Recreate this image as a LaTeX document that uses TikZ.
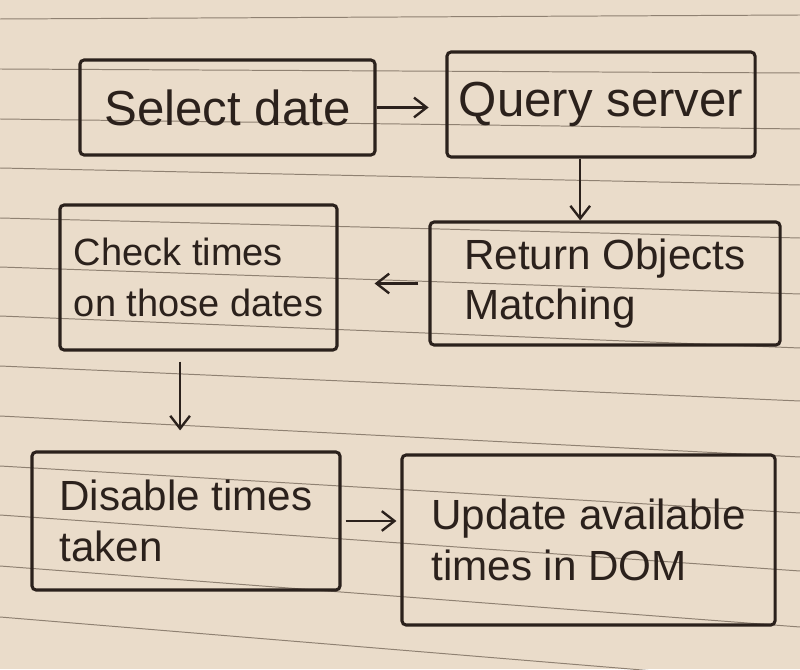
\documentclass[tikz,border=0pt]{standalone}
\usepackage{fontspec}
\setmainfont{Liberation Sans}
\usetikzlibrary{arrows.meta,calc}
\definecolor{paper}{HTML}{EADCCA}
\definecolor{ink}{HTML}{2B211C}
\definecolor{rule}{HTML}{8F8172}
\begin{document}
\begin{tikzpicture}[x=0.025cm,y=-0.025cm,
  box/.style={draw=ink, line width=2.2pt, rounded corners=3pt, inner sep=0pt, text=ink, align=left},
  bigtxt/.style={font=\fontsize{35}{42}\selectfont},
  smalltxt/.style={font=\fontsize{30}{36}\selectfont},
  tinytxt/.style={font=\fontsize{27}{36}\selectfont},
  arr/.style={draw=ink, line width=1.7pt, -{Straight Barb[length=9pt,width=14pt]}},
  ruled/.style={draw=rule, line width=0.7pt}]
\fill[paper] (0,0) rectangle (800,669);
\useasboundingbox (0,0) rectangle (800,669);
\foreach \l/\r in {19/15, 69/73, 119/129, 168/185, 218/238, 267/294, 316/348, 366/401, 416/457, 466/513, 515/571, 566/627, 617/683}
  \draw[ruled] (0,\l) -- (800,\r);
% boxes
\node[box, bigtxt, minimum width=7.375cm, minimum height=2.375cm] (sel) at (227.5,107.5) {Select date};
\node[box, bigtxt, minimum width=7.7cm, minimum height=2.625cm] (qry) at (601,104.5) {Query server};
\node[box, smalltxt, minimum width=8.75cm, minimum height=3.075cm] (ret) at (605,283.5) {Return Objects\\Matching\hspace{2.3cm}};
\node[box, tinytxt, minimum width=6.925cm, minimum height=3.625cm] (chk) at (198.5,277.5) {Check times\\on those dates};
\node[box, smalltxt, minimum width=7.7cm, minimum height=3.45cm] (dis) at (186,521) {Disable times\\taken};
\node[box, smalltxt, minimum width=9.325cm, minimum height=4.25cm] (upd) at (588.5,540) {Update available\\times in DOM};
% connectors
\draw[arr, shorten >=0.42cm] (sel.east) -- (sel.east -| qry.west);
\draw[arr] ([xshift=-0.52cm]qry.south) -- ([xshift=-0.52cm]qry.south |- ret.north);
\draw[arr, shorten <=0.25cm, shorten >=0.9cm] (ret.west) -- (ret.west -| chk.east);
\draw[arr, shorten <=0.25cm, shorten >=0.5cm] ([xshift=-0.46cm]chk.south) -- ([xshift=-0.46cm]chk.south |- dis.north);
\draw[arr, shorten <=0.1cm, shorten >=0.1cm] (dis.east) -- (dis.east -| upd.west);
\end{tikzpicture}
\end{document}
